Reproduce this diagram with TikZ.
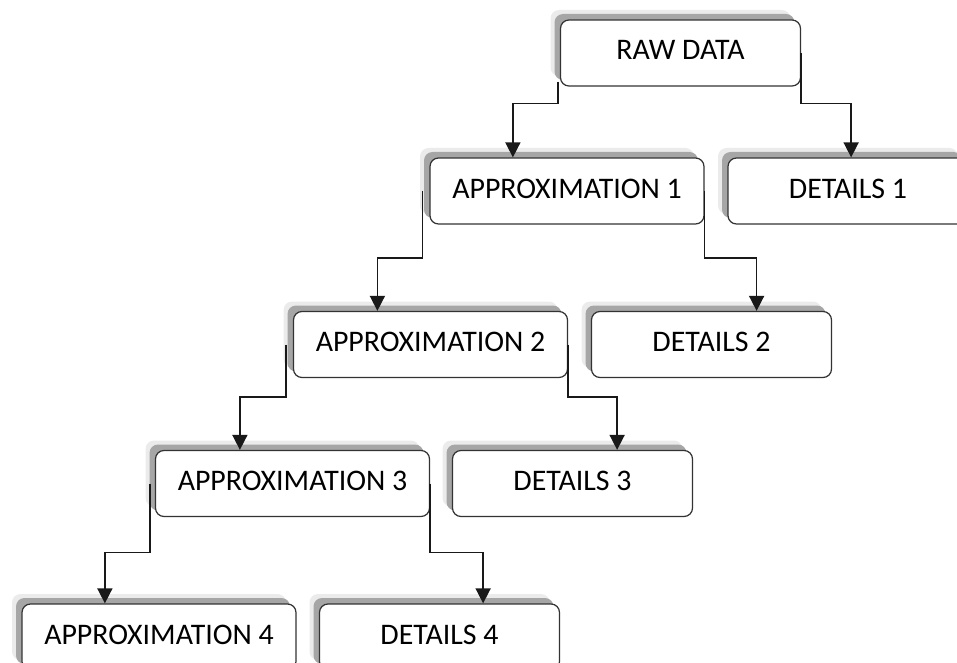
\documentclass[tikz,border=0pt]{standalone}
\usepackage{fontspec}
\setmainfont{Carlito}
\usepackage{tikz}
\usetikzlibrary{arrows.meta,positioning,calc,shadows}
\definecolor{edgec}{HTML}{333333}
\definecolor{shadowdark}{HTML}{A6A6A6}
\definecolor{shadowlight}{HTML}{EBEBEB}

\begin{document}
\begin{tikzpicture}[font=\fontsize{17}{20}\selectfont,
  stage/.style={draw=edgec,line width=0.7pt,fill=white,rounded corners=0.17cm,
    minimum height=1.32cm,text height=0.44cm,text depth=0.16cm,
    drop shadow={shadow xshift=-0.2cm,shadow yshift=0.2cm,fill=shadowlight,opacity=1},
    drop shadow={shadow xshift=-0.12cm,shadow yshift=0.12cm,fill=shadowdark,opacity=1}},
  approx/.style={stage,minimum width=5.48cm},
  detail/.style={stage,minimum width=4.8cm},
  link/.style={draw=black!90,line width=0.9pt,-{Triangle[length=0.3cm,width=0.3cm]}},
]
\useasboundingbox (0,0) rectangle (19.14,13.24);
\clip (0,0) rectangle (19.14,13.24);

% the tree, one level per row
\node[detail] (raw) at (13.61,12.18) {RAW DATA};
\node[approx] (apx1) at (11.34,9.42) {APPROXIMATION 1};
\node[detail] (det1) at (16.96,9.42) {DETAILS 1};
\node[approx] (apx2) at (8.61,6.35) {APPROXIMATION 2};
\node[detail] (det2) at (14.23,6.35) {DETAILS 2};
\node[approx] (apx3) at (5.85,3.57) {APPROXIMATION 3};
\node[detail] (det3) at (11.45,3.57) {DETAILS 3};
\node[approx] (apx4) at (3.18,0.50) {APPROXIMATION 4};
\node[detail] (det4) at (8.79,0.50) {DETAILS 4};

% elbow connectors
\draw[link] ([xshift=-0.04cm,yshift=0.1cm]raw.south west) |- ($(raw.west |- apx1.north)+(-0.94,1.08)$) coordinate (k1) -- (k1 |- apx1.north);
\draw[link] (raw.east) |- ($(raw.east |- det1.north)+(1.0,1.08)$) coordinate (k2) -- (k2 |- det1.north);
\draw[link] ([xshift=-0.14cm]apx1.west) |- ($(apx1.west |- apx2.north)+(-1.04,1.06)$) coordinate (k3) -- (k3 |- apx2.north);
\draw[link] (apx1.east) |- ($(apx1.east |- det2.north)+(1.04,1.06)$) coordinate (k4) -- (k4 |- det2.north);
\draw[link] ([xshift=-0.14cm]apx2.west) |- ($(apx2.west |- apx3.north)+(-1.06,1.06)$) coordinate (k5) -- (k5 |- apx3.north);
\draw[link] (apx2.east) |- ($(apx2.east |- det3.north)+(0.98,1.06)$) coordinate (k6) -- (k6 |- det3.north);
\draw[link] ([xshift=-0.1cm]apx3.west) |- ($(apx3.west |- apx4.north)+(-1.0,1.02)$) coordinate (k7) -- (k7 |- apx4.north);
\draw[link] (apx3.east) |- ($(apx3.east |- det4.north)+(1.06,1.02)$) coordinate (k8) -- (k8 |- det4.north);
\end{tikzpicture}
\end{document}
